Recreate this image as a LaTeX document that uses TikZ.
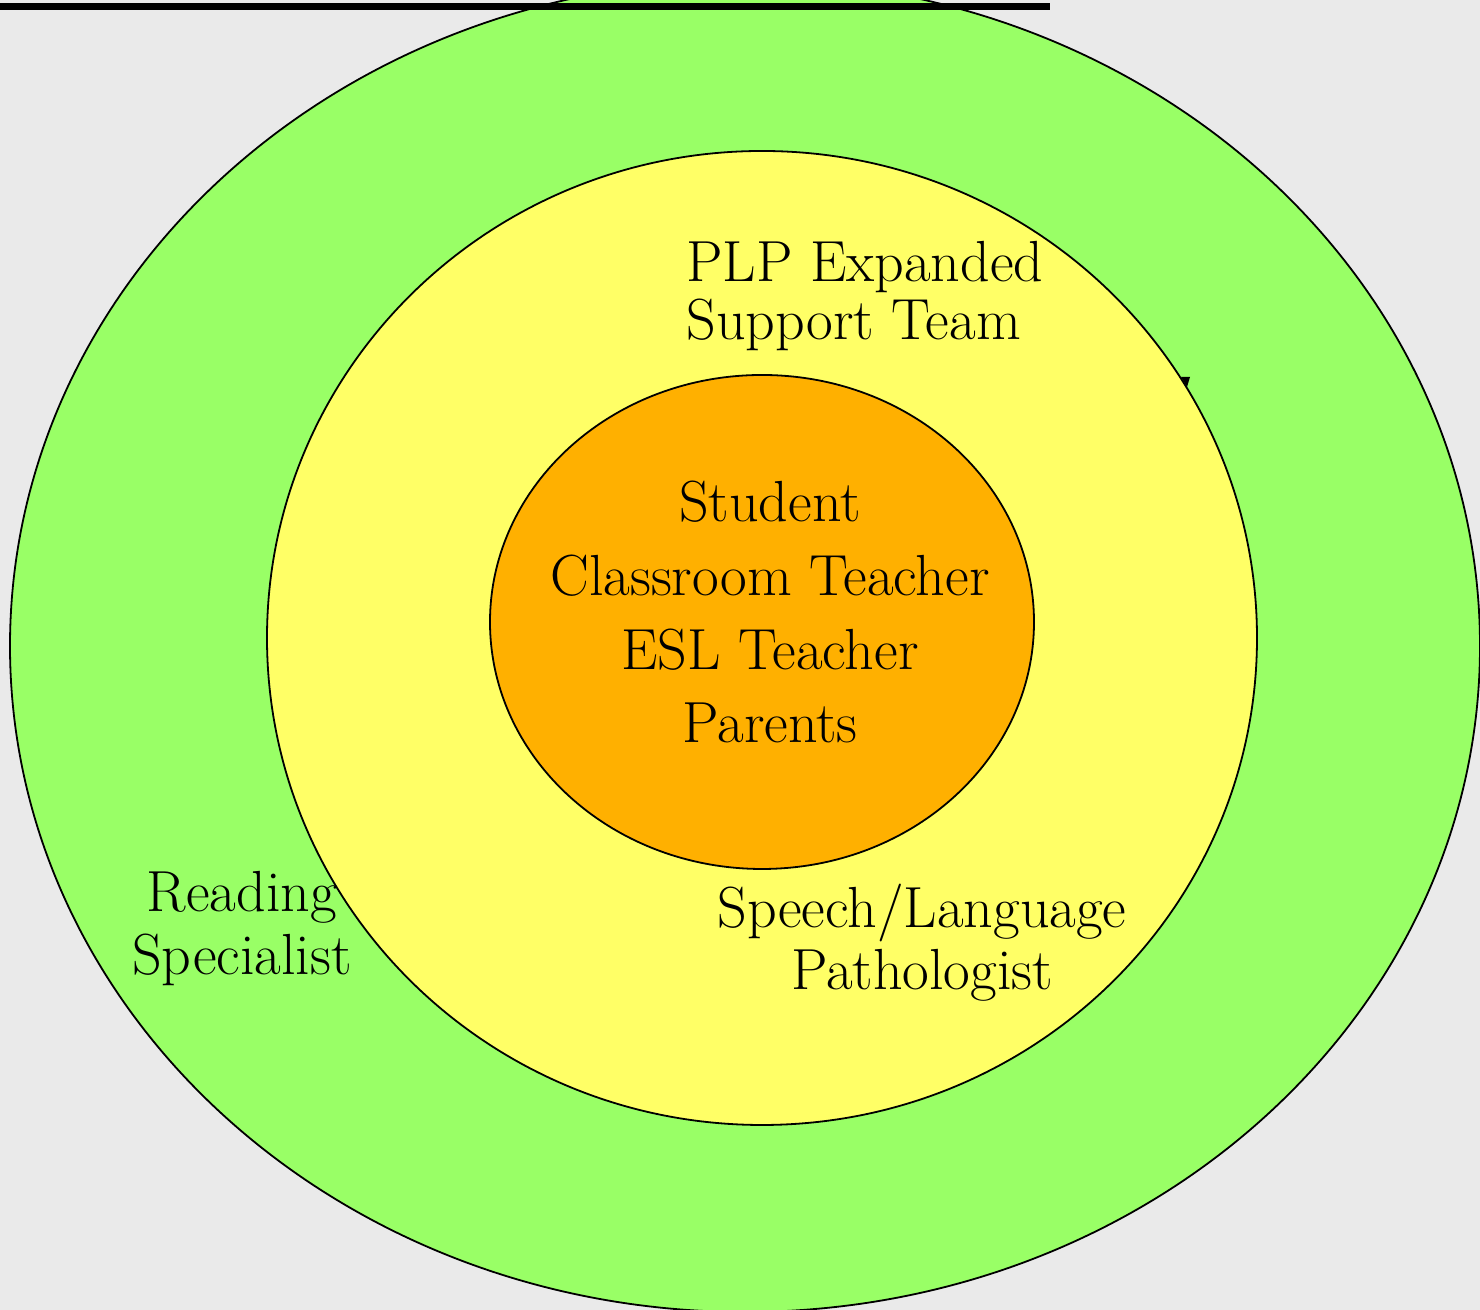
\documentclass[tikz,border=0pt]{standalone}
\usepackage{tikz}
\usetikzlibrary{calc}

\definecolor{bgGray}{HTML}{EAEAEA}
\definecolor{ringGreen}{HTML}{99FF66}
\definecolor{ringYellow}{HTML}{FFFF66}
\definecolor{ringOrange}{HTML}{FFB000}

\begin{document}
\begin{tikzpicture}[x=0.5pt,y=0.5pt,
    ring/.style={draw=black,line width=0.9pt},
    lbl/.style={inner sep=0pt,anchor=base,font=\fontsize{29}{31.5}\selectfont}]
  %% Background and page frame
  \fill[bgGray] (0,0) rectangle (1480,1310);
  \useasboundingbox (0,0) rectangle (1480,1310);

  %% The three rings, outer to inner
  \draw[ring,fill=ringGreen]  (745,664) ellipse [x radius=735,y radius=666];
  \draw[ring,fill=ringYellow] (762,672) ellipse [x radius=495,y radius=487];
  \draw[ring,fill=ringOrange] (762,688) ellipse [x radius=272,y radius=247];

  %% Title underline (title itself sits above the page)
  \draw[line width=3.5pt] (0,1303.5) -- (1050,1303.5);

  %% Small tip on the middle ring
  \fill (1181,933) -- (1190,933) -- (1187,923) -- cycle;

  %% Core team
  \foreach \i/\y/\txt in {1/788/Student,2/714/Classroom Teacher,3/640/ESL Teacher,4/567/Parents}
  {
    \node[lbl] (core\i) at (770,\y) {\txt};
  }

  %% Expanded team
  \node[lbl,anchor=base west] (plpA) at (686,1028) {PLP Expanded};
  \node[lbl,anchor=base west] (plpB) at (686,970) {Support Team};

  %% Specialists
  \node[lbl] (readA) at (242,398) {Reading};
  \node[lbl] (readB) at (242,335) {Specialist};
  \node[lbl] (slpA) at (922,382) {Speech/Language};
  \node[lbl] (slpB) at (922,320) {Pathologist};
\end{tikzpicture}
\end{document}
